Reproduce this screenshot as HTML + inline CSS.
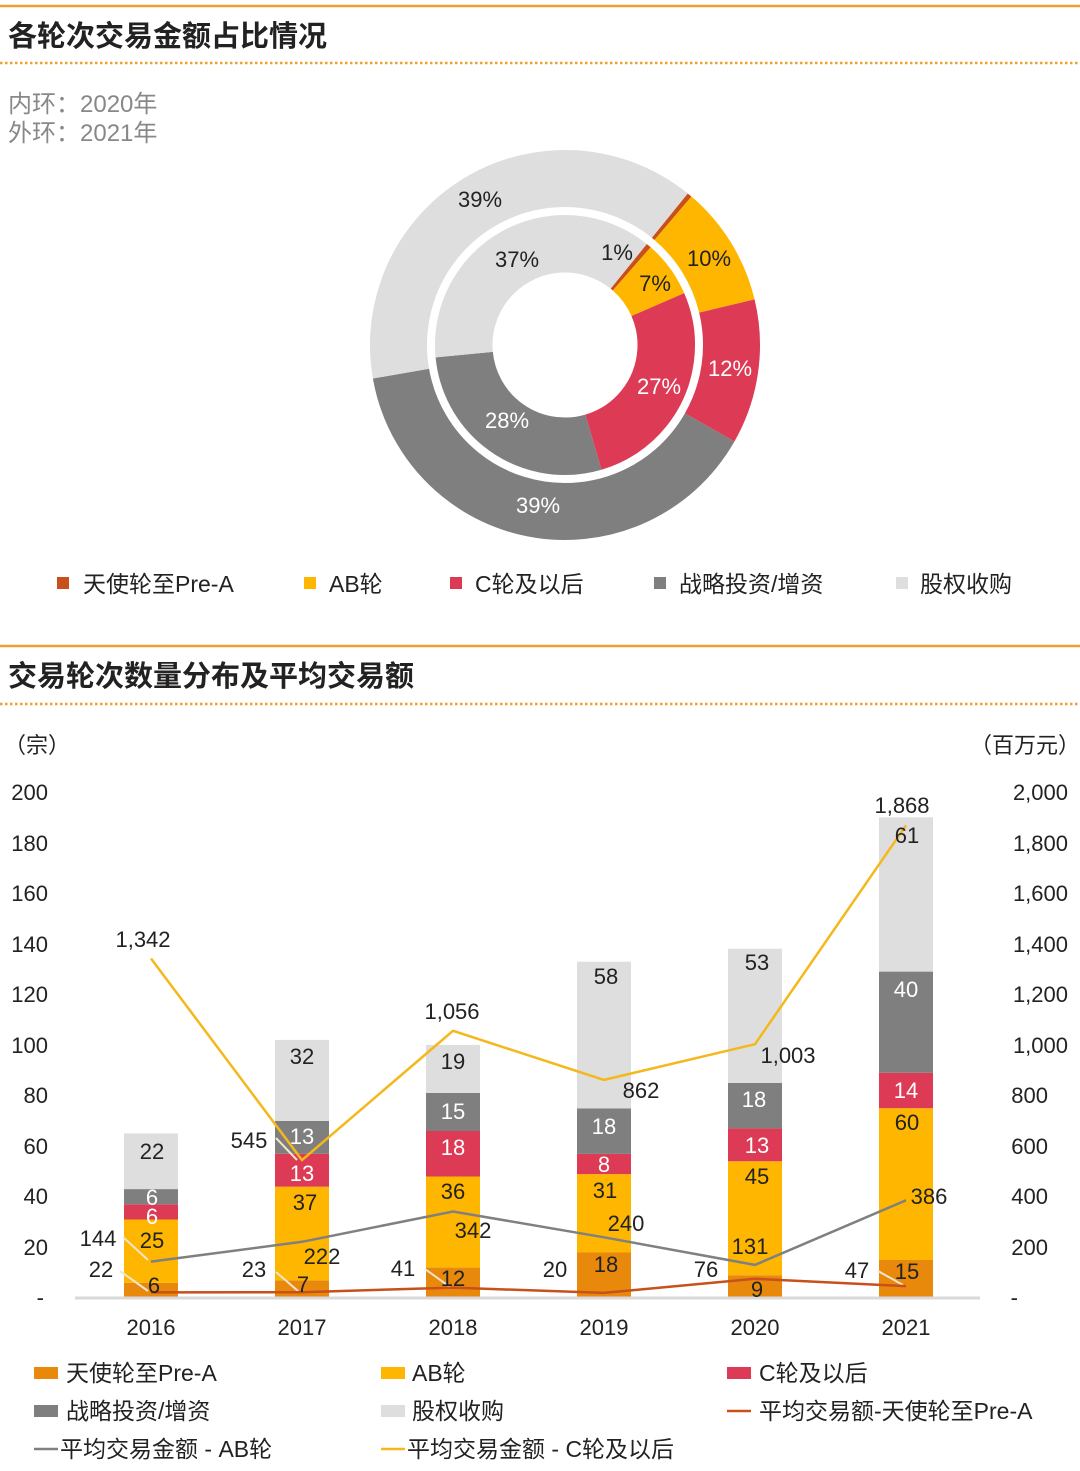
<!DOCTYPE html>
<html><head><meta charset="utf-8"><style>
html,body{margin:0;padding:0;background:#fff}
svg{display:block;font-family:"Liberation Sans","Noto Sans CJK SC",sans-serif}
</style></head><body>
<svg width="1080" height="1471" viewBox="0 0 1080 1471">
<!-- Section 1 -->
<line x1="0" y1="6" x2="1080" y2="6" stroke="#F0A030" stroke-width="2.5"/>
<text x="8" y="46" font-size="29" fill="#222" font-weight="bold">各轮次交易金额占比情况</text>
<line x1="0" y1="63" x2="1080" y2="63" stroke="#F0A030" stroke-width="2.5" stroke-dasharray="2.5 2.5"/>
<text x="8" y="112" font-size="24" fill="#888">内环：2020年</text>
<text x="8" y="141" font-size="24" fill="#888">外环：2021年</text>

<g transform="rotate(-51 565 345)" fill="none">
 <circle cx="565" cy="345" r="166.5" stroke="#C8501A" stroke-width="57" stroke-dasharray="4.2 2000" stroke-dashoffset="0"/>
 <circle cx="565" cy="345" r="166.5" stroke="#FFB600" stroke-width="57" stroke-dasharray="104.6 2000" stroke-dashoffset="-4.2"/>
 <circle cx="565" cy="345" r="166.5" stroke="#DC3A55" stroke-width="57" stroke-dasharray="125.5 2000" stroke-dashoffset="-108.8"/>
 <circle cx="565" cy="345" r="166.5" stroke="#7F7F7F" stroke-width="57" stroke-dasharray="408 2000" stroke-dashoffset="-234.3"/>
 <circle cx="565" cy="345" r="166.5" stroke="#DEDEDE" stroke-width="57" stroke-dasharray="403.8 2000" stroke-dashoffset="-642.3"/>
 <circle cx="565" cy="345" r="101.25" stroke="#C8501A" stroke-width="57.5" stroke-dasharray="4 2000" stroke-dashoffset="0"/>
 <circle cx="565" cy="345" r="101.25" stroke="#FFB600" stroke-width="57.5" stroke-dasharray="44.5 2000" stroke-dashoffset="-4"/>
 <circle cx="565" cy="345" r="101.25" stroke="#DC3A55" stroke-width="57.5" stroke-dasharray="171.8 2000" stroke-dashoffset="-48.5"/>
 <circle cx="565" cy="345" r="101.25" stroke="#7F7F7F" stroke-width="57.5" stroke-dasharray="178.1 2000" stroke-dashoffset="-220.3"/>
 <circle cx="565" cy="345" r="101.25" stroke="#DEDEDE" stroke-width="57.5" stroke-dasharray="237.8 2000" stroke-dashoffset="-398.4"/>
</g>
<g font-size="22" text-anchor="middle">
 <text x="480" y="207" fill="#222">39%</text>
 <text x="517" y="267" fill="#222">37%</text>
 <text x="617" y="260" fill="#222">1%</text>
 <text x="655" y="291" fill="#222">7%</text>
 <text x="709" y="266" fill="#222">10%</text>
 <text x="730" y="376" fill="#fff">12%</text>
 <text x="659" y="394" fill="#fff">27%</text>
 <text x="507" y="428" fill="#fff">28%</text>
 <text x="538" y="513" fill="#fff">39%</text>
</g>
<g font-size="23" fill="#222">
 <rect x="57" y="577" width="12" height="12" fill="#C8501A"/><text x="83" y="592">天使轮至Pre-A</text>
 <rect x="304" y="577" width="12" height="12" fill="#FFB600"/><text x="329" y="592">AB轮</text>
 <rect x="450" y="577" width="12" height="12" fill="#DC3A55"/><text x="475" y="592">C轮及以后</text>
 <rect x="654" y="577" width="12" height="12" fill="#7F7F7F"/><text x="679" y="592">战略投资/增资</text>
 <rect x="896" y="577" width="12" height="12" fill="#DEDEDE"/><text x="920" y="592">股权收购</text>
</g>

<!-- Section 2 -->
<line x1="0" y1="646" x2="1080" y2="646" stroke="#F0A030" stroke-width="2.5"/>
<text x="8" y="686" font-size="29" fill="#222" font-weight="bold">交易轮次数量分布及平均交易额</text>
<line x1="0" y1="704" x2="1080" y2="704" stroke="#F0A030" stroke-width="2.5" stroke-dasharray="2.5 2.5"/>
<text x="4" y="753" font-size="22" fill="#222">（宗）</text>
<text x="1080" y="753" font-size="22" fill="#222" text-anchor="end">（百万元）</text>

<g font-size="22" fill="#222" text-anchor="end">
 <text x="48" y="800">200</text><text x="48" y="851">180</text><text x="48" y="901">160</text>
 <text x="48" y="952">140</text><text x="48" y="1002">120</text><text x="48" y="1053">100</text>
 <text x="48" y="1103">80</text><text x="48" y="1154">60</text><text x="48" y="1204">40</text>
 <text x="48" y="1255">20</text><text x="44" y="1305">-</text>
 <text x="1068" y="800">2,000</text><text x="1068" y="851">1,800</text><text x="1068" y="901">1,600</text>
 <text x="1068" y="952">1,400</text><text x="1068" y="1002">1,200</text><text x="1068" y="1053">1,000</text>
 <text x="1048" y="1103">800</text><text x="1048" y="1154">600</text><text x="1048" y="1204">400</text>
 <text x="1048" y="1255">200</text><text x="1018" y="1305">-</text>
</g>

<g>
 <rect x="124" y="1282.8" width="54" height="15.2" fill="#E8890C"/>
 <rect x="124" y="1219.5" width="54" height="63.3" fill="#FFB600"/>
 <rect x="124" y="1204.3" width="54" height="15.2" fill="#DC3A55"/>
 <rect x="124" y="1189.1" width="54" height="15.2" fill="#7F7F7F"/>
 <rect x="124" y="1133.4" width="54" height="55.7" fill="#DEDEDE"/>

 <rect x="275" y="1280.3" width="54" height="17.7" fill="#E8890C"/>
 <rect x="275" y="1186.7" width="54" height="93.6" fill="#FFB600"/>
 <rect x="275" y="1153.8" width="54" height="32.9" fill="#DC3A55"/>
 <rect x="275" y="1120.9" width="54" height="32.9" fill="#7F7F7F"/>
 <rect x="275" y="1039.9" width="54" height="81" fill="#DEDEDE"/>

 <rect x="426" y="1267.6" width="54" height="30.4" fill="#E8890C"/>
 <rect x="426" y="1176.5" width="54" height="91.1" fill="#FFB600"/>
 <rect x="426" y="1131" width="54" height="45.5" fill="#DC3A55"/>
 <rect x="426" y="1093" width="54" height="38" fill="#7F7F7F"/>
 <rect x="426" y="1044.9" width="54" height="48.1" fill="#DEDEDE"/>

 <rect x="577" y="1252.5" width="54" height="45.5" fill="#E8890C"/>
 <rect x="577" y="1174.1" width="54" height="78.4" fill="#FFB600"/>
 <rect x="577" y="1153.9" width="54" height="20.2" fill="#DC3A55"/>
 <rect x="577" y="1108.4" width="54" height="45.5" fill="#7F7F7F"/>
 <rect x="577" y="961.7" width="54" height="146.7" fill="#DEDEDE"/>

 <rect x="728" y="1275.2" width="54" height="22.8" fill="#E8890C"/>
 <rect x="728" y="1161.3" width="54" height="113.9" fill="#FFB600"/>
 <rect x="728" y="1128.4" width="54" height="32.9" fill="#DC3A55"/>
 <rect x="728" y="1082.9" width="54" height="45.5" fill="#7F7F7F"/>
 <rect x="728" y="948.8" width="54" height="134.1" fill="#DEDEDE"/>

 <rect x="879" y="1260" width="54" height="38" fill="#E8890C"/>
 <rect x="879" y="1108.2" width="54" height="151.8" fill="#FFB600"/>
 <rect x="879" y="1072.8" width="54" height="35.4" fill="#DC3A55"/>
 <rect x="879" y="971.6" width="54" height="101.2" fill="#7F7F7F"/>
 <rect x="879" y="817.3" width="54" height="154.3" fill="#DEDEDE"/>
</g>
<line x1="75" y1="1298" x2="980" y2="1298" stroke="#D9D9D9" stroke-width="3"/>

<g stroke="#F2E6CF" stroke-width="2">
 <line x1="123" y1="1237" x2="148" y2="1260"/>
 <line x1="120" y1="1271" x2="148" y2="1291"/>
 <line x1="276" y1="1272" x2="298" y2="1291"/>
 <line x1="276" y1="1138" x2="297" y2="1160"/>
 <line x1="425" y1="1269" x2="450" y2="1287"/>
 <line x1="878" y1="1271" x2="903" y2="1285"/>
</g>

<polyline fill="none" stroke="#C8501A" stroke-width="2.5" points="151,1292.4 302,1292.2 453,1287.6 604,1292.9 755,1278.8 906,1286.1"/>
<polyline fill="none" stroke="#808080" stroke-width="2.5" points="151,1261.6 302,1241.8 453,1211.5 604,1237.3 755,1264.9 906,1200.3"/>
<polyline fill="none" stroke="#F5B81C" stroke-width="2.5" points="151,958.5 302,1160.1 453,1030.8 604,1079.9 755,1044.2 906,825.4"/>

<g font-size="22" text-anchor="middle" fill="#222">
 <text x="152" y="1159">22</text>
 <text x="152" y="1248">25</text>
 <text x="154" y="1293">6</text>
 <text x="302" y="1064">32</text>
 <text x="305" y="1210">37</text>
 <text x="303" y="1292">7</text>
 <text x="453" y="1069">19</text>
 <text x="453" y="1199">36</text>
 <text x="453" y="1286">12</text>
 <text x="606" y="984">58</text>
 <text x="605" y="1198">31</text>
 <text x="606" y="1272">18</text>
 <text x="757" y="970">53</text>
 <text x="757" y="1184">45</text>
 <text x="757" y="1297">9</text>
 <text x="907" y="843">61</text>
 <text x="907" y="1130">60</text>
 <text x="907" y="1279">15</text>
</g>
<g font-size="22" text-anchor="middle" fill="#fff">
 <text x="152" y="1205">6</text>
 <text x="152" y="1224">6</text>
 <text x="302" y="1144">13</text>
 <text x="302" y="1181">13</text>
 <text x="453" y="1119">15</text>
 <text x="453" y="1155">18</text>
 <text x="604" y="1134">18</text>
 <text x="604" y="1172">8</text>
 <text x="754" y="1107">18</text>
 <text x="757" y="1153">13</text>
 <text x="906" y="997">40</text>
 <text x="906" y="1098">14</text>
</g>
<g font-size="22" text-anchor="middle" fill="#222">
 <text x="143" y="947">1,342</text>
 <text x="249" y="1148">545</text>
 <text x="452" y="1019">1,056</text>
 <text x="641" y="1098">862</text>
 <text x="788" y="1063">1,003</text>
 <text x="902" y="813">1,868</text>
 <text x="98" y="1246">144</text>
 <text x="322" y="1264">222</text>
 <text x="473" y="1238">342</text>
 <text x="626" y="1231">240</text>
 <text x="750" y="1254">131</text>
 <text x="929" y="1204">386</text>
 <text x="101" y="1277">22</text>
 <text x="254" y="1277">23</text>
 <text x="403" y="1276">41</text>
 <text x="555" y="1277">20</text>
 <text x="706" y="1277">76</text>
 <text x="857" y="1278">47</text>
</g>
<g font-size="22" text-anchor="middle" fill="#222">
 <text x="151" y="1335">2016</text><text x="302" y="1335">2017</text><text x="453" y="1335">2018</text>
 <text x="604" y="1335">2019</text><text x="755" y="1335">2020</text><text x="906" y="1335">2021</text>
</g>

<g font-size="23" fill="#222">
 <rect x="34" y="1367" width="24" height="12" fill="#E8890C"/><text x="66" y="1381">天使轮至Pre-A</text>
 <rect x="381" y="1367" width="24" height="12" fill="#FFB600"/><text x="412" y="1381">AB轮</text>
 <rect x="727" y="1367" width="24" height="12" fill="#DC3A55"/><text x="759" y="1381">C轮及以后</text>
 <rect x="34" y="1405" width="24" height="12" fill="#7F7F7F"/><text x="66" y="1419">战略投资/增资</text>
 <rect x="381" y="1405" width="24" height="12" fill="#DEDEDE"/><text x="412" y="1419">股权收购</text>
 <line x1="727" y1="1411" x2="751" y2="1411" stroke="#C8501A" stroke-width="2.5"/><text x="759" y="1419">平均交易额-天使轮至Pre-A</text>
 <line x1="34" y1="1449" x2="58" y2="1449" stroke="#808080" stroke-width="2.5"/><text x="60" y="1457">平均交易金额 - AB轮</text>
 <line x1="381" y1="1449" x2="405" y2="1449" stroke="#F5B81C" stroke-width="2.5"/><text x="407" y="1457">平均交易金额 - C轮及以后</text>
</g>
</svg>
</body></html>
